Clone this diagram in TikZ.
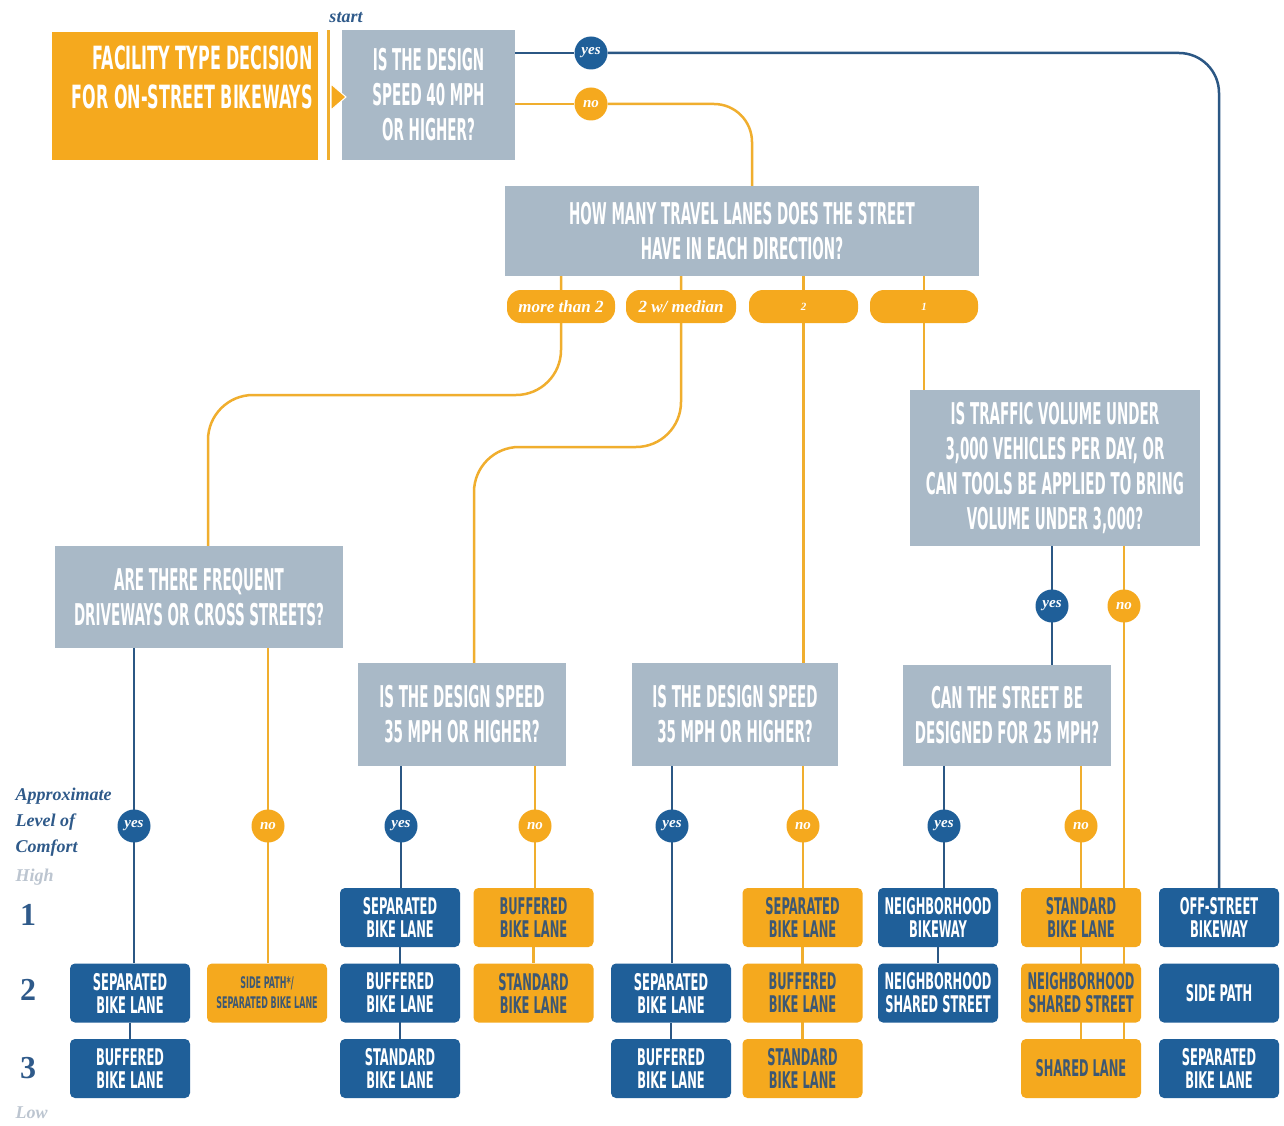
\documentclass[tikz,border=0pt]{standalone}
\usepackage{fontspec}
\usetikzlibrary{backgrounds,calc}
\pgfdeclarelayer{paper}
\pgfsetlayers{paper,background,main}
\newfontfamily\cf[FakeStretch=0.50]{DejaVu Sans Condensed}
\newfontfamily\ct[FakeStretch=0.555]{DejaVu Sans Condensed}
\newfontfamily\yf{Liberation Serif}
\definecolor{obox}{HTML}{F5A91E}
\definecolor{bbox}{HTML}{1F5F99}
\definecolor{gbox}{HTML}{A9B9C7}
\definecolor{otext}{HTML}{3D5873}
\definecolor{bline}{HTML}{2B5784}
\definecolor{oline}{HTML}{F0AE2E}
\definecolor{dlabel}{HTML}{2F5A8A}
\definecolor{glabel}{HTML}{BCC5D0}
\tikzset{
  qbox/.style={fill=gbox, text=white, align=center, inner sep=0,
    font=\cf\bfseries\fontsize{30}{35}\selectfont},
  leaf/.style={rounded corners=5, minimum width=120, minimum height=59, inner sep=0,
    align=center, font=\ct\bfseries\fontsize{23}{23}\selectfont},
  leafb/.style={leaf, fill=bbox, text=white},
  leafo/.style={leaf, fill=obox, text=otext},
  ybub/.style={circle, fill=bbox, minimum size=33, inner sep=0, text=white,
    font=\yf\bfseries\itshape\fontsize{15}{15}\selectfont},
  nbub/.style={ybub, fill=obox},
  pill/.style={rounded corners=14, fill=obox, minimum height=33, inner sep=0, text=white,
    font=\yf\bfseries\itshape\fontsize{17}{17}\selectfont},
  bl/.style={draw=bline, line width=2.5},
  ol/.style={draw=oline, line width=2.5},
  side/.style={anchor=west, align=left, text=dlabel,
    font=\yf\bfseries\itshape\fontsize{18}{26}\selectfont},
  num/.style={text=dlabel, font=\yf\bfseries\fontsize{32}{32}\selectfont},
}
\begin{document}
\begin{tikzpicture}[x=1pt,y=-1pt]
\begin{pgfonlayer}{paper}
\fill[white] (0,0) rectangle (1284,1126);
\end{pgfonlayer}
\useasboundingbox (0,0) rectangle (1284,1126);

% title
\fill[obox] (52,32) rectangle (318,160);
\fill[oline] (326.5,30) rectangle (329.5,160);
\node[anchor=east, align=right, text=white, inner sep=0,
  font=\ct\bfseries\fontsize{32}{39}\selectfont] (title) at (313,77)
  {FACILITY TYPE DECISION\\FOR ON-STREET BIKEWAYS};
\node[text=dlabel, font=\yf\bfseries\itshape\fontsize{18}{18}\selectfont] (start) at (346,18) {start};

% question boxes
\node[qbox, minimum width=173, minimum height=130] (q1) at (428.5,95)
  {IS THE DESIGN\\SPEED 40 MPH\\OR HIGHER?};
\fill[obox, draw=white, line width=1] (331,84) -- (346,97) -- (331,110) -- cycle;
\node[qbox, minimum width=474, minimum height=90] (q2) at (742,231)
  {HOW MANY TRAVEL LANES DOES THE STREET\\HAVE IN EACH DIRECTION?};
\node[qbox, minimum width=288, minimum height=102] (q3) at (199,597)
  {ARE THERE FREQUENT\\DRIVEWAYS OR CROSS STREETS?};
\node[qbox, minimum width=208, minimum height=103] (q4) at (462,714.5)
  {IS THE DESIGN SPEED\\35 MPH OR HIGHER?};
\node[qbox, minimum width=206, minimum height=103] (q5) at (735,714.5)
  {IS THE DESIGN SPEED\\35 MPH OR HIGHER?};
\node[qbox, minimum width=290, minimum height=156] (q6) at (1055,468)
  {IS TRAFFIC VOLUME UNDER\\3,000 VEHICLES PER DAY, OR\\CAN TOOLS BE APPLIED TO BRING\\VOLUME UNDER 3,000?};
\node[qbox, minimum width=208, minimum height=101] (q7) at (1007,715.5)
  {CAN THE STREET BE\\DESIGNED FOR 25 MPH?};

% pills
\node[pill, minimum width=108] (p1) at (561,306.5) {more than 2};
\node[pill, minimum width=110] (p2) at (681,306.5) {2 w/ median};
\node[pill, minimum width=109, font=\yf\bfseries\itshape\fontsize{11}{11}\selectfont] (p3) at (803.5,306.5) {2};
\node[pill, minimum width=108, font=\yf\bfseries\itshape\fontsize{11}{11}\selectfont] (p4) at (924,306.5) {1};

% bubbles
\node[ybub] (yes1) at (591,53) {yes};
\node[nbub] (no1) at (591,104) {no};
\node[ybub] (y3) at (134,826) {yes};
\node[nbub] (n3) at (268,826) {no};
\node[ybub] (y4) at (401,826) {yes};
\node[nbub] (n4) at (535,826) {no};
\node[ybub] (y5) at (672,826) {yes};
\node[nbub] (n5) at (803,826) {no};
\node[ybub] (y6) at (1052,606) {yes};
\node[nbub] (n6) at (1124,606) {no};
\node[ybub] (y7) at (944,826) {yes};
\node[nbub] (n7) at (1081,826) {no};

% leaves
\node[leafb] (a1) at (130,993) {SEPARATED\\BIKE LANE};
\node[leafb] (a2) at (130,1068.5) {BUFFERED\\BIKE LANE};
\node[leafo, font=\ct\bfseries\fontsize{16}{20}\selectfont] (s1) at (267,993) {SIDE PATH*/\\SEPARATED BIKE LANE};
\node[leafb] (b1) at (400,917.5) {SEPARATED\\BIKE LANE};
\node[leafb] (b2) at (400,993) {BUFFERED\\BIKE LANE};
\node[leafb] (b3) at (400,1068.5) {STANDARD\\BIKE LANE};
\node[leafo] (c1) at (533.5,917.5) {BUFFERED\\BIKE LANE};
\node[leafo] (c2) at (533.5,993) {STANDARD\\BIKE LANE};
\node[leafb] (d1) at (671,993) {SEPARATED\\BIKE LANE};
\node[leafb] (d2) at (671,1068.5) {BUFFERED\\BIKE LANE};
\node[leafo] (e1) at (802.5,917.5) {SEPARATED\\BIKE LANE};
\node[leafo] (e2) at (802.5,993) {BUFFERED\\BIKE LANE};
\node[leafo] (e3) at (802.5,1068.5) {STANDARD\\BIKE LANE};
\node[leafb] (f1) at (938,917.5) {NEIGHBORHOOD\\BIKEWAY};
\node[leafb] (f2) at (938,993) {NEIGHBORHOOD\\SHARED STREET};
\node[leafo] (g1) at (1081,917.5) {STANDARD\\BIKE LANE};
\node[leafo] (g2) at (1081,993) {NEIGHBORHOOD\\SHARED STREET};
\node[leafo] (g3) at (1081,1068.5) {SHARED LANE};
\node[leafb] (h1) at (1219,917.5) {OFF-STREET\\BIKEWAY};
\node[leafb] (h2) at (1219,993) {SIDE PATH};
\node[leafb] (h3) at (1219,1068.5) {SEPARATED\\BIKE LANE};

% side labels
\node[side] (comfort) at (12,822) {Approximate\\Level of\\Comfort};
\node[side, text=glabel] (high) at (12,877) {High};
\node[side, text=glabel] (low) at (12,1113) {Low};
\node[num] (r1) at (28,915) {1};
\node[num] (r2) at (28,990) {2};
\node[num] (r3) at (28,1068) {3};

\coordinate (q2in) at ($(q2.north)+(10,0)$);
\coordinate (q3in) at ($(q3.north)+(9,0)$);
\coordinate (q4in) at ($(q4.north)+(12,0)$);

\begin{scope}[on background layer]
\draw[bl] (q1.east|-yes1) -- (yes1);
\draw[bl, rounded corners=40] (yes1) -- (yes1-|h1) -- (h1.north);
\draw[ol] (q1.east|-no1) -- (no1);
\draw[ol, rounded corners=38] (no1) -- (no1-|q2in) -- (q2in);
\draw[ol, rounded corners=45] (p1|-q2.south) -- (p1|-0,395) -- (q3in|-0,395) -- (q3in);
\draw[ol, rounded corners=45] (p2|-q2.south) -- (p2|-0,447) -- (q4in|-0,447) -- (q4in);
\draw[ol] (p3|-q2.south) -- (p3|-q5.north);
\draw[ol] (p4|-q2.south) -- (p4|-q6.north);
\draw[bl] (y3|-q3.south) -- (y3|-a1.north);
\draw[bl] (a1) -- (a2);
\draw[ol] (n3|-q3.south) -- (n3|-s1.north);
\draw[bl] (y4|-q4.south) -- (y4|-b1.north);
\draw[bl] (b1) -- (b3);
\draw[ol] (n4|-q4.south) -- (n4|-c1.north);
\draw[ol] (c1) -- (c2);
\draw[bl] (y5|-q5.south) -- (y5|-d1.north);
\draw[bl] (d1) -- (d2);
\draw[ol] (n5|-q5.south) -- (n5|-e1.north);
\draw[ol] (e1) -- (e3);
\draw[bl] (y6|-q6.south) -- (y6|-q7.north);
\draw[ol] (n6|-q6.south) -- (n6|-g3.north);
\draw[bl] (y7|-q7.south) -- (y7|-f1.north);
\draw[bl] (f1) -- (f2);
\draw[ol] (n7|-q7.south) -- (n7|-g1.north);
\draw[ol] (g1) -- (g3);
\end{scope}
\end{tikzpicture}
\end{document}
